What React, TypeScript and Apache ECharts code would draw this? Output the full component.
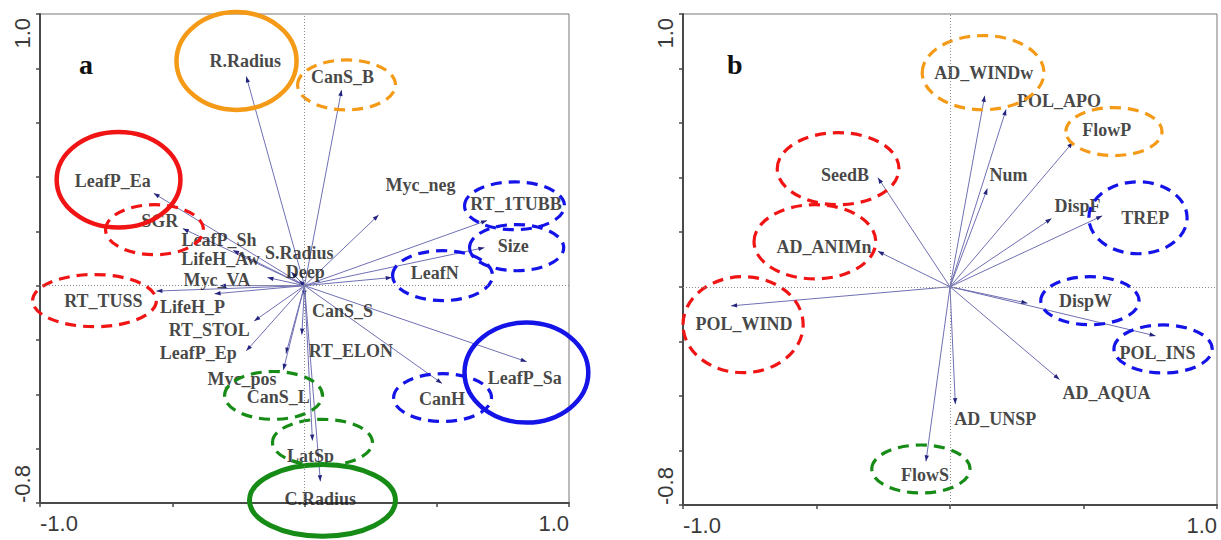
import React, { useEffect, useRef } from 'react';
import * as echarts from 'echarts';

// ---------- Panel a: trait arrows (axis 1, axis 2 scores) ----------
const traitsA = ['R.Radius', 'CanS_B', 'LeafP_Ea', 'SGR', 'LeafP_Sh', 'LifeH_Aw', 'Myc_VA', 'S.Radius', 'Deep', 'Myc_neg', 'RT_1TUBB', 'Size', 'LeafN', 'RT_TUSS', 'LifeH_P', 'RT_STOL', 'LeafP_Ep', 'Myc_pos', 'CanS_L', 'CanS_S', 'RT_ELON', 'LatSp', 'C.Radius', 'CanH', 'LeafP_Sa'];
const axis1A = [-0.22, 0.14, -0.57, -0.46, -0.27, -0.14, -0.32, -0.05, -0.02, 0.28, 0.69, 0.68, 0.33, -0.56, -0.34, -0.19, -0.22, -0.07, -0.08, 0.0, -0.01, 0.03, 0.06, 0.52, 0.84];
const axis2A = [0.77, 0.72, 0.34, 0.21, 0.13, 0.03, 0.0, 0.05, 0.02, 0.26, 0.24, 0.14, 0.03, -0.02, -0.03, -0.13, -0.24, -0.25, -0.31, -0.04, -0.18, -0.57, -0.72, -0.36, -0.28];

// ---------- Panel b ----------
const traitsB = ['AD_WINDw', 'POL_APO', 'FlowP', 'Num', 'DispF', 'TREP', 'SeedB', 'AD_ANIMn', 'POL_WIND', 'FlowS', 'AD_UNSP', 'AD_AQUA', 'POL_INS', 'DispW'];
const axis1B = [0.13, 0.21, 0.46, 0.14, 0.38, 0.57, -0.27, -0.27, -0.82, -0.09, 0.02, 0.41, 0.77, 0.29];
const axis2B = [0.70, 0.65, 0.53, 0.36, 0.25, 0.26, 0.40, 0.13, -0.07, -0.64, -0.43, -0.34, -0.18, -0.06];

// tick labels shown at the axis ends
const xTickLabels = ['-1.0', '1.0'];
const yTickLabels = ['-0.8', '1.0'];
const panelLetters = ['a', 'b'];

// ---------- layout (label offsets in px from arrow tip) ----------
const labelOffsetA = [[-1, -15], [1, -13], [-41, -12], [-23, -8], [-14, -10], [-47, -19], [-3, -6], [8, -19], [6, -8], [42, -30], [29, -16], [29, -2], [43, -5], [-53, 10], [-22, 13], [-45, 9], [-48, 2], [-44, 25], [-5, 27], [38, 14], [49, 16], [-2, 15], [0, 18], [0, 16], [-2, 16]];
const labelOffsetB = [[-1, -23], [53, -8], [34, -12], [21, -14], [26, -13], [43, 2], [-33, -3], [-54, -4], [13, 18], [-1, 14], [40, 15], [47, 13], [2, 17], [58, -2]];

// ---------- group ellipses (center x, center y, radius x, radius y in axis units) ----------
const ellipseA = [[-0.257, 0.827, 0.227, 0.180], [0.159, 0.739, 0.185, 0.092], [-0.703, 0.390, 0.234, 0.176], [-0.567, 0.206, 0.185, 0.092], [-0.794, -0.055, 0.234, 0.096], [0.794, 0.294, 0.189, 0.088], [0.802, 0.140, 0.178, 0.085], [0.522, 0.037, 0.189, 0.092], [0.839, -0.320, 0.234, 0.184], [0.522, -0.412, 0.185, 0.088], [-0.117, -0.404, 0.185, 0.088], [0.068, -0.577, 0.189, 0.085], [0.068, -0.790, 0.276, 0.132]];
const ellipseGroupA = ['orange', 'orange', 'red', 'red', 'red', 'blue', 'blue', 'blue', 'blue', 'blue', 'green', 'green', 'green'];
const ellipseSolidA = [true, false, true, false, false, false, false, false, true, false, false, false, true];

const ellipseB = [[0.124, 0.785, 0.228, 0.136], [0.614, 0.569, 0.180, 0.088], [0.704, 0.253, 0.184, 0.132], [-0.419, 0.433, 0.228, 0.132], [-0.506, 0.165, 0.228, 0.136], [-0.775, -0.139, 0.225, 0.176], [-0.109, -0.668, 0.184, 0.088], [0.524, -0.051, 0.184, 0.088], [0.798, -0.228, 0.184, 0.088]];
const ellipseGroupB = ['orange', 'orange', 'blue', 'red', 'red', 'red', 'green', 'blue', 'blue'];
const ellipseSolidB = [false, false, false, false, false, false, false, false, false];

const GROUP_COLORS: Record<string, string> = {
  orange: '#F59A16',
  red: '#F01414',
  blue: '#1414E8',
  green: '#168C16',
};

const SERIF = "'Liberation Serif','Times New Roman',serif";
const SANS = "'Liberation Sans',Arial,sans-serif";
const AXIS_COLOR = '#4a4a4a';

function buildAxes(gridIndex: number) {
  const common = {
    type: 'value' as const,
    gridIndex,
    splitLine: { show: false },
  };
  const labelStyle = { fontFamily: SANS, fontSize: 22, color: '#3a3a3a' };
  const xAxes = [
    {
      ...common, min: -1, max: 1, interval: 0.5, position: 'bottom',
      axisLine: { show: true, onZero: false, lineStyle: { color: AXIS_COLOR, width: 2 } },
      axisTick: { show: true, length: 4, lineStyle: { color: AXIS_COLOR, width: 1.5 } },
      axisLabel: { ...labelStyle, margin: 9, align: 'left', formatter: (v: number) => (Math.abs(v + 1) < 1e-6 ? xTickLabels[0] : '') },
    },
    {
      ...common, min: -1, max: 1, interval: 0.5, position: 'bottom',
      axisLine: { show: false, onZero: false },
      axisTick: { show: false },
      axisLabel: { ...labelStyle, margin: 9, align: 'right', formatter: (v: number) => (Math.abs(v - 1) < 1e-6 ? xTickLabels[1] : '') },
    },
  ];
  const yAxes = [
    {
      ...common, min: -0.8, max: 1.0, interval: 0.2, position: 'left',
      axisLine: { show: true, onZero: false, lineStyle: { color: AXIS_COLOR, width: 2 } },
      axisTick: { show: true, length: 4, lineStyle: { color: AXIS_COLOR, width: 1.5 } },
      axisLabel: { ...labelStyle, margin: 7, rotate: 90, align: 'left', verticalAlign: 'bottom', formatter: (v: number) => (Math.abs(v + 0.8) < 1e-6 ? yTickLabels[0] : '') },
    },
    {
      ...common, min: -0.8, max: 1.0, interval: 0.2, position: 'left',
      axisLine: { show: false, onZero: false },
      axisTick: { show: false },
      axisLabel: { ...labelStyle, margin: 7, rotate: 90, align: 'right', verticalAlign: 'bottom', padding: [0, 4, 0, 0], formatter: (v: number) => (Math.abs(v - 1.0) < 1e-6 ? yTickLabels[1] : '') },
    },
  ];
  return { xAxes, yAxes };
}

function buildSeries(
  panel: number,
  names: string[], xs: number[], ys: number[], offsets: number[][],
  ellipses: number[][], groups: string[], solids: boolean[]
) {
  const xAxisIndex = panel * 2;
  const yAxisIndex = panel * 2;
  const arrows = {
    type: 'custom',
    xAxisIndex, yAxisIndex,
    clip: false,
    z: 2,
    silent: true,
    encode: { x: 0, y: 1 },
    data: xs.map((x, i) => [x, ys[i]]),
    renderItem: (params: any, api: any) => {
      const o = api.coord([0, 0]);
      const p = api.coord([api.value(0), api.value(1)]);
      const dx = p[0] - o[0];
      const dy = p[1] - o[1];
      const len = Math.hypot(dx, dy) || 1;
      const ux = dx / len;
      const uy = dy / len;
      const L = 6;
      const W = 2.2;
      const bx = p[0] - ux * L;
      const by = p[1] - uy * L;
      return {
        type: 'group',
        children: [
          { type: 'line', shape: { x1: o[0], y1: o[1], x2: p[0], y2: p[1] }, style: { stroke: '#7070B4', lineWidth: 1 } },
          { type: 'polygon', shape: { points: [[p[0], p[1]], [bx - uy * W, by + ux * W], [bx + uy * W, by - ux * W]] }, style: { fill: '#24247E' } },
        ],
      };
    },
  };
  const labels = {
    type: 'scatter',
    xAxisIndex, yAxisIndex,
    z: 3,
    silent: true,
    symbol: 'circle',
    symbolSize: 1,
    itemStyle: { color: 'rgba(0,0,0,0)' },
    label: {
      show: true,
      position: 'inside',
      formatter: '{b}',
      fontFamily: SERIF,
      fontWeight: 'bold',
      fontSize: 18,
      lineHeight: 14,
      color: '#161616',
      align: 'center',
      verticalAlign: 'middle',
    },
    data: names.map((n, i) => ({ name: n, value: [xs[i], ys[i]], label: { offset: offsets[i] } })),
    markLine: {
      silent: true,
      symbol: 'none',
      animation: false,
      label: { show: false },
      lineStyle: { type: [1, 2], color: '#8a8a8a', width: 1 },
      data: [{ xAxis: 0 }, { yAxis: 0 }],
    },
  };
  const rings = {
    type: 'custom',
    xAxisIndex, yAxisIndex,
    clip: false,
    z: 4,
    silent: true,
    encode: { x: 0, y: 1 },
    data: ellipses,
    renderItem: (params: any, api: any) => {
      const i = params.dataIndex;
      const c = api.coord([api.value(0), api.value(1)]);
      const s = api.size([api.value(2), api.value(3)]);
      const solid = solids[i];
      return {
        type: 'ellipse',
        shape: { cx: c[0], cy: c[1], rx: s[0], ry: s[1] },
        style: {
          fill: 'none',
          stroke: GROUP_COLORS[groups[i]],
          lineWidth: solid ? (groups[i] === 'green' ? 5 : 4.5) : 3.2,
          lineDash: solid ? null : [11, 7],
        },
      };
    },
  };
  return [arrows, labels, rings];
}

export default function App() {
  const ref = useRef<HTMLDivElement>(null);

  useEffect(() => {
    if (!ref.current) return;
    const chart = echarts.init(ref.current, undefined, { renderer: 'svg' });
    const a = buildAxes(0);
    const b = buildAxes(1);
    const option: any = {
      animation: false,
      backgroundColor: '#ffffff',
      textStyle: { fontFamily: SERIF },
      title: [
        { text: panelLetters[0], left: 79, top: 50, padding: 0, textStyle: { fontFamily: SERIF, fontWeight: 'bold', fontSize: 28, color: '#111' } },
        { text: panelLetters[1], left: 727, top: 50, padding: 0, textStyle: { fontFamily: SERIF, fontWeight: 'bold', fontSize: 28, color: '#111' } },
      ],
      grid: [
        { left: 40, top: 14, width: 529, height: 489, show: true, borderColor: '#777', borderWidth: 1, backgroundColor: 'transparent' },
        { left: 683, top: 14, width: 534, height: 491, show: true, borderColor: '#777', borderWidth: 1, backgroundColor: 'transparent' },
      ],
      xAxis: [...a.xAxes, ...b.xAxes],
      yAxis: [...a.yAxes, ...b.yAxes],
      series: [
        ...buildSeries(0, traitsA, axis1A, axis2A, labelOffsetA, ellipseA, ellipseGroupA, ellipseSolidA),
        ...buildSeries(1, traitsB, axis1B, axis2B, labelOffsetB, ellipseB, ellipseGroupB, ellipseSolidB),
      ],
    };
    chart.setOption(option);
    return () => chart.dispose();
  }, []);

  return <div ref={ref} style={{ position: 'absolute', left: 0, top: 0, width: 1221, height: 540 }} />;
}
